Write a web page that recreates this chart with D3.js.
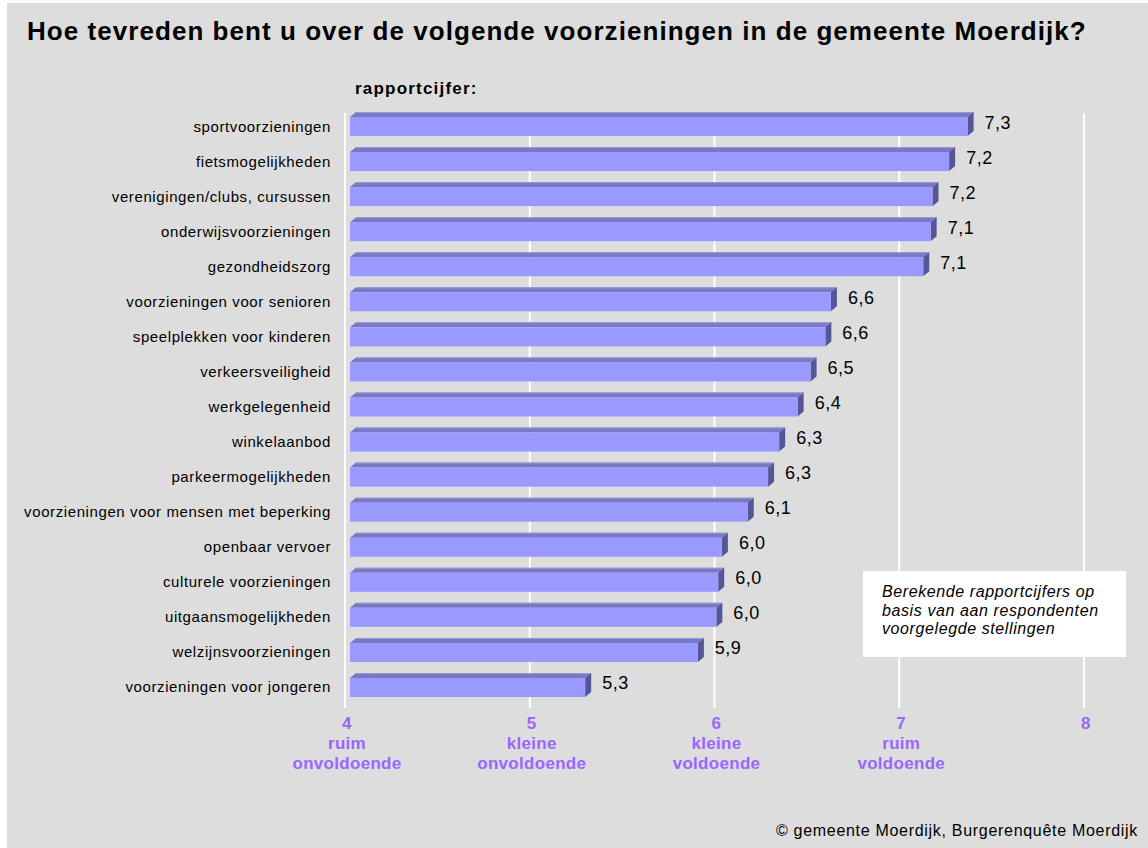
<!DOCTYPE html>
<html lang="nl">
<head>
<meta charset="UTF-8">
<title>Tevredenheid voorzieningen gemeente Moerdijk</title>
<script src="https://cdn.jsdelivr.net/npm/d3@7"></script>
<style>
  body { margin: 0; background: #ffffff; }
  svg { display: block; font-family: "Liberation Sans", Arial, sans-serif; }
</style>
</head>
<body>
<div id="chart"></div>
<script>
// categories, top to bottom
var categories = [
  "sportvoorzieningen",
  "fietsmogelijkheden",
  "verenigingen/clubs, cursussen",
  "onderwijsvoorzieningen",
  "gezondheidszorg",
  "voorzieningen voor senioren",
  "speelplekken voor kinderen",
  "verkeersveiligheid",
  "werkgelegenheid",
  "winkelaanbod",
  "parkeermogelijkheden",
  "voorzieningen voor mensen met beperking",
  "openbaar vervoer",
  "culturele voorzieningen",
  "uitgaansmogelijkheden",
  "welzijnsvoorzieningen",
  "voorzieningen voor jongeren"
];
// bar lengths
var scores = [7.37, 7.27, 7.18, 7.17, 7.13, 6.63, 6.60, 6.52, 6.45, 6.35, 6.29, 6.18, 6.04, 6.02, 6.01, 5.91, 5.30];
// printed value labels
var scoreLabels = ["7,3", "7,2", "7,2", "7,1", "7,1", "6,6", "6,6", "6,5", "6,4", "6,3", "6,3", "6,1", "6,0", "6,0", "6,0", "5,9", "5,3"];

var ticks = [4, 5, 6, 7, 8];
var tickNames = [["ruim", "onvoldoende"], ["kleine", "onvoldoende"], ["kleine", "voldoende"], ["ruim", "voldoende"], []];

var note = ["Berekende rapportcijfers op", "basis van aan respondenten", "voorgelegde stellingen"];

var W = 1148, H = 848;
var depthX = 6, depthY = 5;

var svg = d3.select("#chart").append("svg")
  .attr("width", W)
  .attr("height", H);

// grey panel
svg.append("rect")
  .attr("x", 7).attr("y", 3)
  .attr("width", W - 7).attr("height", H - 3)
  .attr("fill", "#dddddd");

var x = d3.scaleLinear().domain([4, 8]).range([345, 1084]);
var y = d3.scaleBand().domain(categories).range([117, 697]).paddingInner(0.458).paddingOuter(0);

// gridlines
svg.append("g")
  .selectAll("line")
  .data(ticks)
  .enter().append("line")
    .attr("x1", function(d) { return x(d); })
    .attr("x2", function(d) { return x(d); })
    .attr("y1", 113)
    .attr("y2", 708)
    .attr("stroke", "#ffffff")
    .attr("stroke-width", 2);

// title
svg.append("text")
  .attr("x", 27).attr("y", 40)
  .style("font-size", "26px")
  .style("font-weight", "bold")
  .style("letter-spacing", "1.05px")
  .attr("fill", "#000")
  .text("Hoe tevreden bent u over de volgende voorzieningen in de gemeente Moerdijk?");

svg.append("text")
  .attr("x", 355).attr("y", 94)
  .style("font-size", "17px")
  .style("font-weight", "bold")
  .style("letter-spacing", "1.2px")
  .text("rapportcijfer:");

// bars
var rows = categories.map(function(c, i) {
  return { cat: c, v: scores[i], label: scoreLabels[i] };
});

var bar = svg.append("g").selectAll("g")
  .data(rows)
  .enter().append("g");

var x0 = x(4) + 5;
var bh = y.bandwidth();

// top face
bar.append("path")
  .attr("d", function(d) {
    var t = y(d.cat), r = x(d.v);
    return "M" + x0 + "," + t + "L" + (x0 + depthX) + "," + (t - depthY) +
      "L" + (r + depthX) + "," + (t - depthY) + "L" + r + "," + t + "Z";
  })
  .attr("fill", "#7878c6");
// back edge highlight
bar.append("line")
  .attr("x1", x0 + depthX)
  .attr("x2", function(d) { return x(d.v) + depthX; })
  .attr("y1", function(d) { return y(d.cat) - depthY + 0.5; })
  .attr("y2", function(d) { return y(d.cat) - depthY + 0.5; })
  .attr("stroke", "#9a9ad2")
  .attr("stroke-width", 1);
// side face
bar.append("path")
  .attr("d", function(d) {
    var t = y(d.cat), r = x(d.v);
    return "M" + r + "," + t + "L" + (r + depthX) + "," + (t - depthY) +
      "L" + (r + depthX) + "," + (t + bh - depthY) + "L" + r + "," + (t + bh) + "Z";
  })
  .attr("fill", "#565696");
// front face
bar.append("rect")
  .attr("x", x0)
  .attr("y", function(d) { return y(d.cat); })
  .attr("width", function(d) { return x(d.v) - x0; })
  .attr("height", bh)
  .attr("fill", "#9999ff");

// value labels
bar.append("text")
  .attr("x", function(d) { return x(d.v) + depthX + 11; })
  .attr("y", function(d) { return y(d.cat) + bh / 2 - depthY + 7; })
  .style("font-size", "18px")
  .style("letter-spacing", "0.5px")
  .text(function(d) { return d.label; });

// category labels
svg.append("g").selectAll("text")
  .data(categories)
  .enter().append("text")
    .attr("x", 331)
    .attr("y", function(d) { return y(d) + bh / 2 + 5; })
    .attr("text-anchor", "end")
    .style("font-size", "15px")
    .style("letter-spacing", "0.6px")
    .text(function(d) { return d; });

// x axis labels
var tl = svg.append("g").selectAll("text")
  .data(ticks)
  .enter().append("text")
    .attr("text-anchor", "middle")
    .attr("fill", "#9966ff")
    .style("font-size", "17px")
    .style("font-weight", "bold")
    .style("letter-spacing", "0.3px");
tl.append("tspan")
  .attr("x", function(d) { return x(d) + 2; })
  .attr("y", 729)
  .text(function(d) { return d; });
tl.each(function(d, i) {
  var t = d3.select(this);
  tickNames[i].forEach(function(s, j) {
    t.append("tspan")
      .attr("x", x(d) + 2)
      .attr("y", 749 + j * 20)
      .text(s);
  });
});

// note box
svg.append("rect")
  .attr("x", 863).attr("y", 571)
  .attr("width", 263).attr("height", 86)
  .attr("fill", "#ffffff");
svg.append("g").selectAll("text")
  .data(note)
  .enter().append("text")
    .attr("x", 882)
    .attr("y", function(d, i) { return 597 + i * 18.5; })
    .style("font-size", "16px")
    .style("font-style", "italic")
    .style("letter-spacing", "0.6px")
    .text(function(d) { return d; });

// source
svg.append("text")
  .attr("x", 1138).attr("y", 836)
  .attr("text-anchor", "end")
  .style("font-size", "16px")
  .style("letter-spacing", "0.7px")
  .text("© gemeente Moerdijk, Burgerenquête Moerdijk");
</script>
</body>
</html>
